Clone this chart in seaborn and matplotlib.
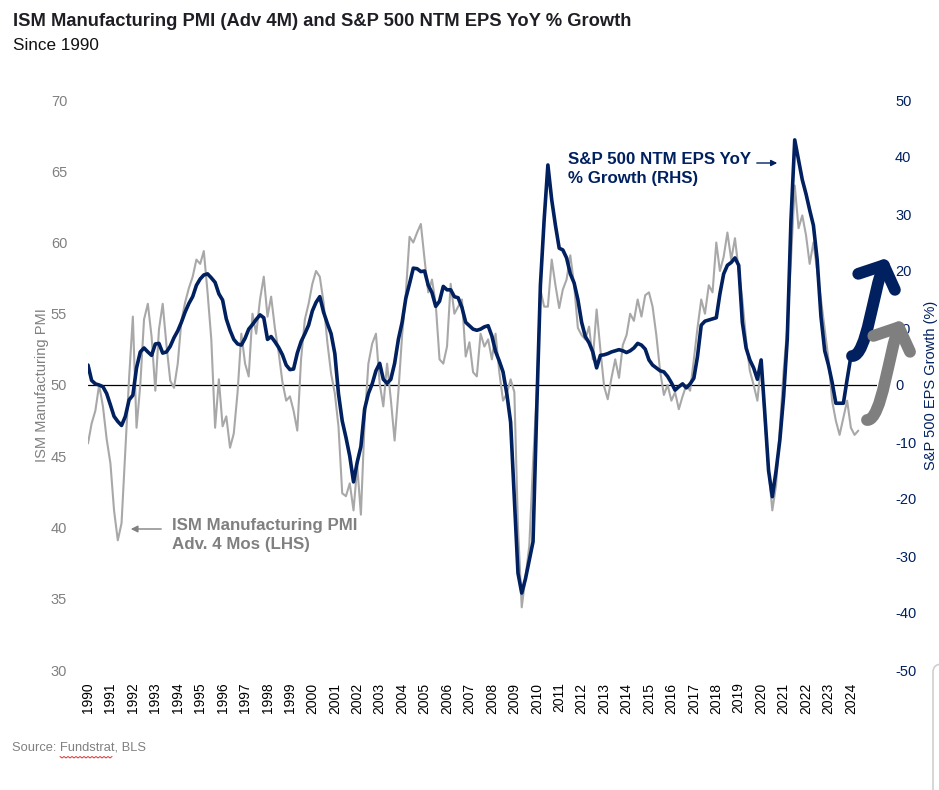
import pandas as pd
import matplotlib
matplotlib.use("Agg")
import matplotlib.pyplot as plt
import matplotlib.dates as mdates
import seaborn as sns
from matplotlib import font_manager
from matplotlib.patches import FancyArrowPatch, ArrowStyle, FancyBboxPatch
from matplotlib.path import Path
from matplotlib.lines import Line2D

# ISM Manufacturing PMI advanced 4 months, one reading every 2 months from Jan 1990
ism_pmi = [
    45.9, 47.3, 48.2, 50.0, 48.5, 46.2,  # 1990
    44.5, 41.2, 39.1, 40.3, 45.5, 50.5,  # 1991
    54.8, 47.0, 50.0, 54.6, 55.7, 53.4,  # 1992
    49.6, 53.9, 55.7, 52.8, 50.3, 49.8,  # 1993
    51.5, 54.5, 55.8, 56.8, 57.6, 58.8,  # 1994
    58.5, 59.4, 56.5, 53.2, 47.0, 50.4,  # 1995
    47.1, 47.8, 45.6, 46.6, 49.5, 53.6,  # 1996
    51.5, 50.6, 55.0, 53.6, 56.0, 57.6,  # 1997
    54.8, 56.2, 54.0, 52.3, 50.2, 48.9,  # 1998
    49.2, 48.2, 46.8, 51.8, 54.6, 55.7,  # 1999
    57.1, 58.0, 57.6, 55.8, 53.0, 50.8,  # 2000
    49.4, 47.1, 42.4, 42.2, 43.1, 41.2,  # 2001
    44.3, 40.9, 47.5, 51.5, 52.9, 53.6,  # 2002
    50.1, 48.5, 51.5, 49.0, 46.1, 49.5,  # 2003
    53.5, 56.4, 60.4, 60.0, 60.7, 61.3,  # 2004
    58.8, 56.5, 57.4, 55.7, 51.8, 51.5,  # 2005
    52.7, 57.1, 55.0, 55.5, 56.0, 52.0,  # 2006
    53.0, 50.9, 50.6, 53.6, 52.7, 53.2,  # 2007
    51.8, 53.6, 50.9, 48.9, 49.4, 50.4,  # 2008
    49.5, 40.0, 34.4, 36.5, 38.7, 44.5,  # 2009
    49.5, 56.7, 55.5, 55.5, 58.8, 57.0,  # 2010
    55.4, 56.7, 57.4, 59.1, 57.0, 54.0,  # 2011
    53.5, 53.2, 54.1, 51.8, 55.3, 52.5,  # 2012
    49.9, 49.0, 50.5, 51.8, 50.5, 52.8,  # 2013
    53.5, 55.0, 54.5, 56.0, 54.8, 56.3,  # 2014
    56.5, 55.5, 53.5, 51.0, 49.3, 50.0,  # 2015
    48.9, 49.5, 48.3, 49.2, 50.0, 49.6,  # 2016
    51.8, 54.0, 56.0, 55.0, 57.0, 56.5,  # 2017
    60.0, 58.0, 59.0, 60.7, 58.8, 60.3,  # 2018
    58.0, 56.0, 53.2, 51.0, 50.0, 48.9,  # 2019
    51.5, 47.5, 44.0, 41.2, 43.0, 47.0,  # 2020
    51.0, 54.0, 58.8, 64.0, 61.0, 61.9,  # 2021
    60.5, 58.5, 60.0, 58.0, 56.0, 53.9,  # 2022
    51.8, 48.9, 47.5, 46.5, 47.7, 48.9,  # 2023
    47.0, 46.5, 46.8,                    # 2024
]

# S&P 500 NTM EPS YoY % growth, one reading every 2 months from Jan 1990
eps_growth = [
    3.5, 0.8, 0.2, 0.0, -0.3, -1.5,        # 1990
    -3.5, -5.5, -6.4, -7.1, -5.5, -2.6,    # 1991
    -1.8, 3.0, 5.8, 6.5, 5.8, 5.2,         # 1992
    7.2, 7.3, 5.6, 5.8, 6.8, 8.3,          # 1993
    9.5, 11.0, 12.8, 14.3, 15.5, 17.5,     # 1994
    18.6, 19.3, 19.5, 18.8, 18.0, 16.0,    # 1995
    14.9, 11.6, 9.6, 8.0, 7.2, 7.0,        # 1996
    8.2, 9.8, 10.6, 11.5, 12.3, 11.8,      # 1997
    8.0, 8.5, 7.6, 6.6, 5.3, 3.5,          # 1998
    2.7, 2.8, 5.6, 7.6, 9.0, 10.5,         # 1999
    13.0, 14.5, 15.5, 12.8, 10.8, 9.0,     # 2000
    5.5, -1.5, -6.3, -9.2, -12.5, -17.0,   # 2001
    -13.5, -10.8, -4.2, -1.5, 0.2, 2.5,    # 2002
    3.8, 1.0, 0.3, 1.0, 3.8, 8.0,          # 2003
    11.0, 15.2, 17.8, 20.5, 20.4, 19.9,    # 2004
    20.0, 17.5, 16.2, 13.8, 14.7, 17.3,    # 2005
    16.7, 16.7, 15.5, 15.3, 13.6, 11.0,    # 2006
    10.4, 9.8, 9.6, 9.8, 10.2, 10.4,       # 2007
    8.6, 5.9, 4.2, 2.3, -1.6, -6.5,        # 2008
    -20.0, -33.0, -36.5, -34.0, -30.7, -27.5,  # 2009
    -4.0, 17.5, 29.0, 38.6, 32.5, 28.0,    # 2010
    24.0, 23.7, 22.3, 19.5, 17.9, 15.0,    # 2011
    11.0, 8.5, 7.4, 5.8, 3.0, 5.2,         # 2012
    5.3, 5.5, 5.8, 6.0, 6.2, 6.0,          # 2013
    5.7, 6.0, 6.5, 7.3, 7.0, 6.3,          # 2014
    4.4, 3.5, 3.0, 2.5, 2.3, 1.5,          # 2015
    0.4, -0.9, -0.3, 0.2, -0.5, 0.2,       # 2016
    1.2, 5.0, 10.5, 11.2, 11.4, 11.6,      # 2017
    11.8, 16.0, 19.5, 21.0, 21.5, 22.3,    # 2018
    21.0, 11.0, 6.5, 4.4, 3.0, 1.0,        # 2019
    4.4, -5.0, -15.0, -19.6, -15.0, -9.6,  # 2020
    -2.0, 8.0, 29.0, 43.0, 39.5, 36.0,     # 2021
    33.5, 30.7, 28.0, 22.0, 12.0, 6.0,     # 2022
    3.5, 0.5, -3.2, -3.2, -3.2, 1.0,       # 2023
    5.0,                                   # 2024
]

years = list(range(1990, 2025))
pmi_ticks = list(range(30, 71, 5))
eps_ticks = list(range(-50, 51, 10))

ism = pd.DataFrame({
    "date": pd.date_range("1990-01-01", periods=len(ism_pmi), freq="2MS"),
    "pmi": ism_pmi,
})
eps = pd.DataFrame({
    "date": pd.date_range("1990-01-01", periods=len(eps_growth), freq="2MS"),
    "eps": eps_growth,
})

navy = "#002060"
line_gray = "#a8a8a8"
text_gray = "#808080"

sns.set_style("white")
installed = {f.name for f in font_manager.fontManager.ttflist}
narrow = "Liberation Sans Narrow" if "Liberation Sans Narrow" in installed else "Liberation Sans"
plt.rcParams["font.family"] = ["Liberation Sans", "DejaVu Sans"]
plt.rcParams["axes.unicode_minus"] = False

W, H = 939, 790
fig = plt.figure(figsize=(W / 100, H / 100), dpi=100)


def fpx(x, y):
    # pixel position on the canvas -> figure fraction
    return x / W, 1 - y / H


ax = fig.add_axes([88 / W, 1 - 670 / H, (877 - 88) / W, 570 / H])
sns.lineplot(data=ism, x="date", y="pmi", ax=ax, color=line_gray, linewidth=1.5)
ax.axhline(50, color="black", linewidth=0.9, zorder=1)
ax.set_ylim(30, 70)
ax.set_yticks(pmi_ticks)
ax.set_xlim(mdates.date2num(pd.Timestamp("1990-01-01")), mdates.date2num(pd.Timestamp("2025-03-01")))
ax.set_xticks([mdates.date2num(pd.Timestamp(f"{y}-01-01")) for y in years])
ax.set_xticklabels([str(y) for y in years], rotation=90)
ax.tick_params(axis="x", length=0, pad=9, labelsize=10, labelcolor="black")
ax.tick_params(axis="y", length=0, pad=15, labelsize=10.5, labelcolor=text_gray)
ax.set_xlabel("")
ax.set_ylabel("ISM Manufacturing PMI", color=text_gray, fontsize=10.5)
ax.yaxis.set_label_coords(-0.049, 0.5)

ax2 = ax.twinx()
sns.lineplot(data=eps, x="date", y="eps", ax=ax2, color=navy, linewidth=2.6)
ax2.set_ylim(-50, 50)
ax2.set_yticks(eps_ticks)
ax2.tick_params(axis="y", length=0, pad=13, labelsize=10.5, labelcolor=navy)
ax2.set_ylabel("S&P 500 EPS Growth (%)", color=navy, fontsize=10.5)
ax2.yaxis.set_label_coords(1.0596, 0.5)

for a in (ax, ax2):
    for s in a.spines.values():
        s.set_visible(False)

# titles and source
fig.text(*fpx(13, 22), "ISM Manufacturing PMI (Adv 4M) and S&P 500 NTM EPS YoY % Growth",
         family=narrow, fontsize=13.2, fontweight="bold", color="#1e1e24", va="center")
fig.text(*fpx(13, 45), "Since 1990", fontsize=12.3, color="#111111", va="center")
fig.text(*fpx(12, 748), "Source: Fundstrat, BLS", family=narrow, fontsize=9.3,
         color=text_gray, va="center")
sq_x = [60 + 2 * i for i in range(27)]
sq_y = [757 + (1 if i % 2 else -0.5) for i in range(27)]
fig.add_artist(Line2D([x / W for x in sq_x], [1 - y / H for y in sq_y],
                      color="#e03030", linewidth=0.7, transform=fig.transFigure))

# series call-outs
fig.text(*fpx(568, 152), "S&P 500 NTM EPS YoY\n% Growth (RHS)", fontsize=12.2,
         fontweight="bold", color=navy, va="top", linespacing=1.3)
ax.annotate("", xy=fpx(780, 163), xytext=fpx(754, 163), xycoords="figure fraction",
            textcoords="figure fraction",
            arrowprops=dict(arrowstyle="-|>", color=navy, lw=1, mutation_scale=9))
fig.text(*fpx(172, 518), "ISM Manufacturing PMI\nAdv. 4 Mos (LHS)", fontsize=12.2,
         fontweight="bold", color=text_gray, va="top", linespacing=1.3)
ax.annotate("", xy=fpx(128, 529), xytext=fpx(164, 529), xycoords="figure fraction",
            textcoords="figure fraction",
            arrowprops=dict(arrowstyle="-|>", color=text_gray, lw=1, mutation_scale=10))

# hand-drawn upward arrows on the right
codes = [Path.MOVETO, Path.CURVE4, Path.CURVE4, Path.CURVE4]
for pts, col in [
    ([(852, 356), (867, 357), (873, 290), (887, 258)], navy),
    ([(867, 420), (882, 421), (889, 350), (902, 320)], "#7f7f7f"),
]:
    arrow = FancyArrowPatch(
        path=Path([fpx(x, y) for x, y in pts], codes),
        arrowstyle=ArrowStyle("->", head_length=0.65, head_width=0.72),
        mutation_scale=20, linewidth=8.5, color=col,
        capstyle="round", joinstyle="round", transform=fig.transFigure,
    )
    fig.add_artist(arrow)

# edge of a window frame at the right of the screenshot
fig.add_artist(FancyBboxPatch(fpx(933, 800), 40 / W, 136 / H,
                              boxstyle="round,pad=0,rounding_size=0.01",
                              transform=fig.transFigure, facecolor="white",
                              edgecolor="#d0d0d0", linewidth=1.2))

fig.savefig("out.png", dpi=100)
